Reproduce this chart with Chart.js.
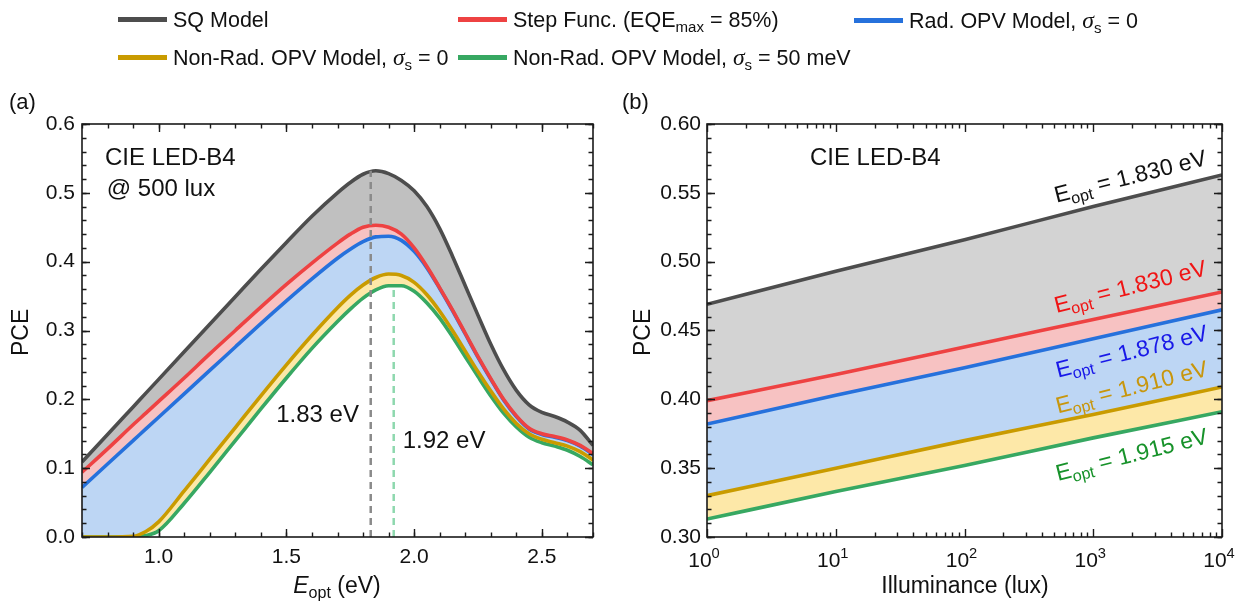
<!DOCTYPE html>
<html>
<head>
<meta charset="utf-8">
<script src="https://cdn.jsdelivr.net/npm/chart.js@4.4.1/dist/chart.umd.min.js"></script>
<style>
  body { margin: 0; background: #fff; font-family: "Liberation Sans", Arial, sans-serif; color: #111; }
  #wrap { position: relative; width: 1237px; height: 605px; overflow: hidden; }
  canvas { position: absolute; top: 0; }
  .lg { position: absolute; font-size: 21.5px; white-space: nowrap; line-height: 24px; }
  .lg span.sw { display: inline-block; width: 49px; height: 5px; vertical-align: middle; margin-right: 6px; position: relative; top: -2px; }
  .lg sub, .ttl sub { font-size: 70%; vertical-align: -0.3em; line-height: 0; }
  .lg i { font-family: "Liberation Serif", serif; font-size: 110%; }
  .ttl { position: absolute; font-size: 23px; white-space: nowrap; }
  .pl { position: absolute; font-size: 22px; }
</style>
</head>
<body>
<div id="wrap">
  <canvas id="chartA" width="618" height="605" style="left:0"></canvas>
  <canvas id="chartB" width="619" height="605" style="left:618px"></canvas>
  <div id="legend"></div>
  <div class="pl" style="left:9px;top:89px">(a)</div>
  <div class="pl" style="left:622px;top:89px">(b)</div>
  <div class="ttl" style="left:7px;top:356px;transform:rotate(-90deg);transform-origin:left top">PCE</div>
  <div class="ttl" style="left:629px;top:356px;transform:rotate(-90deg);transform-origin:left top">PCE</div>
  <div class="ttl" style="left:337px;top:572px;transform:translateX(-50%)"><i>E</i><sub>opt</sub> (eV)</div>
  <div class="ttl" style="left:965px;top:572px;transform:translateX(-50%)">Illuminance (lux)</div>
</div>
<script>
// ---- (a) PCE vs optical gap, CIE LED-B4 @ 500 lux
const eOpt        = [0.70, 0.80, 0.90, 0.95, 1.00, 1.10, 1.20, 1.30, 1.40, 1.50, 1.60, 1.70, 1.75, 1.80, 1.85, 1.90, 1.95, 2.00, 2.05, 2.10, 2.15, 2.20, 2.25, 2.30, 2.35, 2.40, 2.45, 2.50, 2.55, 2.60, 2.65, 2.70];
const pceSQ       = [0.109, 0.149, 0.189, 0.209, 0.229, 0.269, 0.309, 0.349, 0.389, 0.428, 0.466, 0.500, 0.515, 0.527, 0.532, 0.528, 0.518, 0.503, 0.480, 0.448, 0.408, 0.365, 0.322, 0.280, 0.243, 0.213, 0.192, 0.181, 0.175, 0.167, 0.155, 0.133];
const pceStep     = [0.094, 0.128, 0.163, 0.180, 0.197, 0.231, 0.266, 0.300, 0.334, 0.367, 0.398, 0.427, 0.440, 0.450, 0.453, 0.450, 0.440, 0.420, 0.393, 0.362, 0.330, 0.296, 0.262, 0.230, 0.200, 0.176, 0.158, 0.150, 0.146, 0.141, 0.133, 0.121];
const pceRad      = [0.072, 0.106, 0.140, 0.157, 0.174, 0.208, 0.242, 0.276, 0.310, 0.343, 0.375, 0.405, 0.418, 0.429, 0.436, 0.437, 0.431, 0.415, 0.391, 0.361, 0.329, 0.295, 0.261, 0.229, 0.199, 0.175, 0.157, 0.149, 0.145, 0.140, 0.132, 0.120];
const pceNonRad0  = [0.000, 0.000, 0.001, 0.008, 0.022, 0.067, 0.113, 0.159, 0.205, 0.250, 0.293, 0.333, 0.351, 0.366, 0.377, 0.382, 0.380, 0.370, 0.352, 0.328, 0.300, 0.270, 0.240, 0.212, 0.186, 0.165, 0.150, 0.142, 0.137, 0.132, 0.124, 0.112];
const pceNonRad50 = [0.000, 0.000, 0.000, 0.002, 0.009, 0.049, 0.094, 0.140, 0.186, 0.231, 0.274, 0.313, 0.331, 0.347, 0.359, 0.365, 0.365, 0.357, 0.340, 0.318, 0.291, 0.262, 0.233, 0.205, 0.180, 0.160, 0.145, 0.137, 0.132, 0.126, 0.117, 0.105];
// optimum gaps marked with dashed lines: [E_opt, PCE at peak]
const optSQ   = [1.83, 0.532];
const optNR50 = [1.92, 0.365];

// ---- (b) PCE vs illuminance at the optimum gap
const lux         = [1, 10, 100, 1000, 10000];
const luxSQ       = [0.469, 0.493, 0.516, 0.540, 0.563];
const luxStep     = [0.399, 0.418, 0.438, 0.458, 0.478];
const luxRad      = [0.382, 0.403, 0.423, 0.444, 0.465];
const luxNonRad0  = [0.330, 0.350, 0.370, 0.389, 0.409];
const luxNonRad50 = [0.313, 0.333, 0.352, 0.372, 0.391];
const gapLabels   = ['1.830', '1.830', '1.878', '1.910', '1.915'];

const FONT = '"Liberation Sans", Arial, sans-serif';
const COL = {
    sq: '#4d4d4d', sqFillA: '#c0c0c0', sqFillB: '#d3d3d3',
    step: '#ee4242', stepFill: '#f7c2c2',
    rad: '#2671dc', radFill: '#bdd6f4',
    nr0: '#c99b00', nr0Fill: '#fde8a8',
    nr50: '#37a862', nr50Dash: '#8ed8ae'
};
const TXT = ['#111111', '#f01414', '#1818e8', '#c8960c', '#17922a'];

// legend (html so sub/italics are real text)
const legendItems = [
    { left: 118, top: 8,  color: COL.sq,   html: 'SQ Model' },
    { left: 458, top: 8,  color: COL.step, html: 'Step Func. (EQE<sub>max</sub> = 85%)' },
    { left: 854, top: 8,  color: COL.rad,  html: 'Rad. OPV Model, <i>σ</i><sub>s</sub> = 0' },
    { left: 118, top: 45, color: COL.nr0,  html: 'Non-Rad. OPV Model, <i>σ</i><sub>s</sub> = 0' },
    { left: 458, top: 45, color: COL.nr50, html: 'Non-Rad. OPV Model, <i>σ</i><sub>s</sub> = 50 meV' }
];
const lgBox = document.getElementById('legend');
legendItems.forEach(it => {
    const d = document.createElement('div');
    d.className = 'lg';
    d.style.left = it.left + 'px';
    d.style.top = it.top + 'px';
    d.innerHTML = `<span class="sw" style="background:${it.color}"></span>${it.html}`;
    lgBox.appendChild(d);
});

const pts = (xs, ys) => xs.map((x, i) => ({ x, y: ys[i] }));

const curve = (xs, ys, color, fill, bg) => ({
    data: pts(xs, ys), borderColor: color, backgroundColor: bg || 'transparent',
    fill: fill, borderWidth: 3.6, pointRadius: 0, cubicInterpolationMode: 'monotone'
});

// frame with inward major/minor ticks on all four sides
const framePlugin = {
    id: 'frame',
    afterDraw(chart, args, o) {
        const { ctx, chartArea: a, scales: { x, y } } = chart;
        ctx.save();
        ctx.strokeStyle = '#1a1a1a';
        ctx.lineWidth = 1.6;
        ctx.strokeRect(a.left, a.top, a.right - a.left, a.bottom - a.top);
        const tx = (vals, len) => vals.forEach(v => {
            const p = Math.round(x.getPixelForValue(v)) + 0.5;
            ctx.beginPath();
            ctx.moveTo(p, a.bottom); ctx.lineTo(p, a.bottom - len);
            ctx.moveTo(p, a.top); ctx.lineTo(p, a.top + len);
            ctx.stroke();
        });
        const ty = (vals, len) => vals.forEach(v => {
            const p = Math.round(y.getPixelForValue(v)) + 0.5;
            ctx.beginPath();
            ctx.moveTo(a.left, p); ctx.lineTo(a.left + len, p);
            ctx.moveTo(a.right, p); ctx.lineTo(a.right - len, p);
            ctx.stroke();
        });
        ctx.lineWidth = 1.4;
        tx(o.minorX, 4.5); ty(o.minorY, 4.5);
        tx(o.majorX, 8); ty(o.majorY, 8);
        ctx.restore();
    }
};

// text with italic / subscript / superscript pieces
function richText(ctx, parts, size) {
    let w = 0;
    parts.forEach(p => {
        const s = p.sub || p.sup ? size * 0.7 : size;
        ctx.font = `${p.it ? 'italic ' : ''}${s}px ${FONT}`;
        p._w = ctx.measureText(p.t).width;
        p._f = ctx.font;
        w += p._w;
    });
    return { w, draw(x0, y0) {
        let xx = x0;
        parts.forEach(p => {
            ctx.font = p._f;
            const dy = p.sub ? size * 0.3 : p.sup ? -size * 0.42 : 0;
            ctx.fillText(p.t, xx, y0 + dy);
            xx += p._w;
        });
    } };
}

const notePlugin = {
    id: 'notes',
    afterDraw(chart, args, o) {
        const { ctx, scales: { x, y } } = chart;
        ctx.save();
        ctx.textBaseline = 'alphabetic';
        (o.notes || []).forEach(n => {
            ctx.fillStyle = n.color || '#111';
            ctx.font = `${n.size || 24}px ${FONT}`;
            ctx.textAlign = 'left';
            ctx.fillText(n.text, x.getPixelForValue(n.x), y.getPixelForValue(n.y));
        });
        (o.rich || []).forEach(n => {
            const cx = x.getPixelForValue(n.x), cy = y.getPixelForValue(n.y);
            ctx.save();
            ctx.translate(cx, cy);
            ctx.rotate(n.angle || 0);
            ctx.fillStyle = n.color;
            ctx.textBaseline = 'middle';
            ctx.textAlign = 'left';
            const r = richText(ctx, n.parts, n.size || 23);
            r.draw(n.center ? -r.w / 2 : 0, 0);
            ctx.restore();
        });
        ctx.restore();
    }
};

const tickFont = { family: FONT, size: 21 };
const hiddenGrid = { display: false, drawTicks: false };

// ---------- chart (a)
const minorXA = [], minorYA = [];
for (let i = 7; i <= 27; i++) minorXA.push(i / 10);
for (let i = 0; i <= 30; i++) minorYA.push(+(i * 0.02).toFixed(2));
const majorXA = [1.0, 1.5, 2.0, 2.5];
const majorYA = [0, 0.1, 0.2, 0.3, 0.4, 0.5, 0.6];

new Chart(document.getElementById('chartA'), {
    type: 'line',
    data: {
        datasets: [
            curve(eOpt, pceSQ, COL.sq, '+1', COL.sqFillA),
            curve(eOpt, pceStep, COL.step, '+1', COL.stepFill),
            curve(eOpt, pceRad, COL.rad, '+1', COL.radFill),
            curve(eOpt, pceNonRad0, COL.nr0, '+1', COL.nr0Fill),
            curve(eOpt, pceNonRad50, COL.nr50, false),
            { data: [{ x: optSQ[0], y: 0 }, { x: optSQ[0], y: optSQ[1] }], borderColor: '#8a8a8a',
              borderWidth: 2.5, borderDash: [7, 5], pointRadius: 0, fill: false, order: -1 },
            { data: [{ x: optNR50[0], y: 0 }, { x: optNR50[0], y: optNR50[1] }], borderColor: COL.nr50Dash,
              borderWidth: 2.5, borderDash: [7, 5], pointRadius: 0, fill: false, order: -1 }
        ]
    },
    options: {
        responsive: false, animation: false, devicePixelRatio: 1,
        layout: { padding: { top: 124, right: 25, left: 0, bottom: 0 } },
        plugins: {
            legend: { display: false }, tooltip: { enabled: false },
            filler: { drawTime: 'beforeDatasetsDraw' },
            frame: { majorX: majorXA, minorX: minorXA, majorY: majorYA, minorY: minorYA },
            notes: {
                notes: [
                    { text: 'CIE LED-B4', x: 0.79, y: 0.540 },
                    { text: '@ 500 lux', x: 0.797, y: 0.496 },
                    { text: '1.83 eV', x: 1.46, y: 0.167 },
                    { text: '1.92 eV', x: 1.955, y: 0.129 }
                ]
            }
        },
        scales: {
            x: {
                type: 'linear', min: 0.7, max: 2.7,
                afterBuildTicks: s => { s.ticks = majorXA.map(v => ({ value: v })); },
                afterFit: s => { s.height = 68; },
                ticks: { font: tickFont, color: '#111', padding: 8, maxRotation: 0, autoSkip: false, callback: v => v.toFixed(1) },
                grid: hiddenGrid, border: { display: false }
            },
            y: {
                min: 0, max: 0.6,
                afterBuildTicks: s => { s.ticks = majorYA.map(v => ({ value: v })); },
                afterFit: s => { s.width = 82; },
                ticks: { font: tickFont, color: '#111', padding: 7, callback: v => v.toFixed(1) },
                grid: hiddenGrid, border: { display: false }
            }
        }
    },
    plugins: [framePlugin, notePlugin]
});

// ---------- chart (b)
const majorXB = [1, 10, 100, 1000, 10000];
const minorXB = [];
[1, 10, 100, 1000].forEach(d => { for (let k = 2; k <= 9; k++) minorXB.push(d * k); });
const majorYB = [0.30, 0.35, 0.40, 0.45, 0.50, 0.55, 0.60];
const minorYB = [];
for (let i = 30; i <= 60; i++) minorYB.push(i / 100);

// anchors (data space) of the rotated E_opt labels
const gapLabelX = [1950, 1950, 2000, 2000, 2000];
const gapLabelY = [0.561, 0.481, 0.434, 0.408, 0.359];

const decadeLabels = {
    id: 'decades',
    afterDraw(chart) {
        const { ctx, chartArea: a, scales: { x } } = chart;
        ctx.save();
        ctx.fillStyle = '#111';
        ctx.textBaseline = 'alphabetic';
        majorXB.forEach(v => {
            const r = richText(ctx, [{ t: '10' }, { t: String(Math.round(Math.log10(v))), sup: true }], 21);
            r.draw(x.getPixelForValue(v) - r.w / 2 - 3, a.bottom + 30);
        });
        ctx.restore();
    }
};

const chartB = new Chart(document.getElementById('chartB'), {
    type: 'line',
    data: {
        datasets: [
            curve(lux, luxSQ, COL.sq, '+1', COL.sqFillB),
            curve(lux, luxStep, COL.step, '+1', COL.stepFill),
            curve(lux, luxRad, COL.rad, '+1', COL.radFill),
            curve(lux, luxNonRad0, COL.nr0, '+1', COL.nr0Fill),
            curve(lux, luxNonRad50, COL.nr50, false)
        ]
    },
    options: {
        responsive: false, animation: false, devicePixelRatio: 1,
        layout: { padding: { top: 124, right: 15, left: 0, bottom: 0 } },
        plugins: {
            legend: { display: false }, tooltip: { enabled: false },
            filler: { drawTime: 'beforeDatasetsDraw' },
            frame: { majorX: majorXB, minorX: minorXB, majorY: majorYB, minorY: minorYB },
            notes: {
                notes: [{ text: 'CIE LED-B4', x: 6.3, y: 0.5705 }],
                rich: []
            }
        },
        scales: {
            x: {
                type: 'logarithmic', min: 1, max: 10000,
                afterBuildTicks: s => { s.ticks = majorXB.map(v => ({ value: v })); },
                afterFit: s => { s.height = 68; },
                ticks: { display: false },
                grid: hiddenGrid, border: { display: false }
            },
            y: {
                min: 0.30, max: 0.60,
                afterBuildTicks: s => { s.ticks = majorYB.map(v => ({ value: v })); },
                afterFit: s => { s.width = 89; },
                ticks: { font: tickFont, color: '#111', padding: 6, callback: v => v.toFixed(2) },
                grid: hiddenGrid, border: { display: false }
            }
        }
    },
    plugins: [framePlugin, notePlugin, decadeLabels]
});

// rotate the E_opt labels with the slope of the SQ line
const sx = chartB.scales.x, sy = chartB.scales.y;
const ang = Math.atan2(sy.getPixelForValue(luxSQ[4]) - sy.getPixelForValue(luxSQ[0]),
                       sx.getPixelForValue(lux[4]) - sx.getPixelForValue(lux[0]));
chartB.options.plugins.notes.rich = gapLabels.map((g, i) => ({
    x: gapLabelX[i], y: gapLabelY[i], angle: ang, color: TXT[i], center: true, size: 23,
    parts: [{ t: 'E' }, { t: 'opt', sub: true }, { t: ' = ' + g + ' eV' }]
}));
chartB.update('none');
</script>
</body>
</html>
